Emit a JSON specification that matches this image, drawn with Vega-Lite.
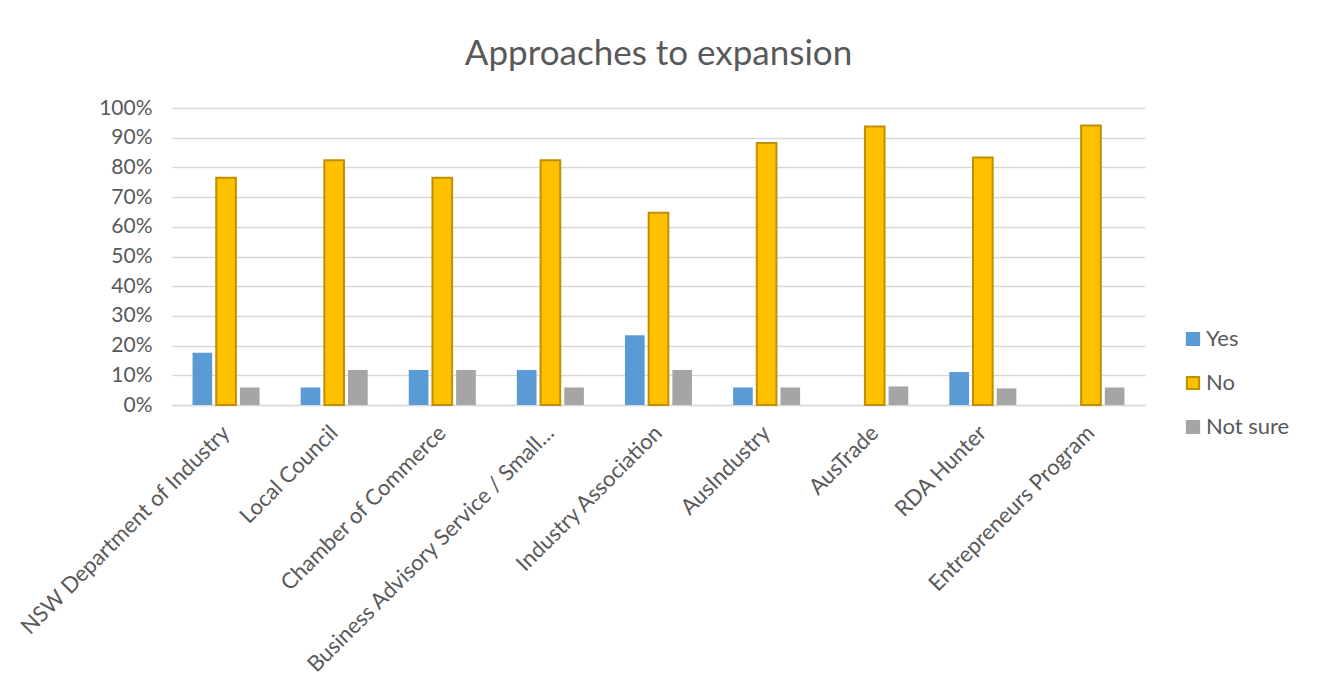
{
  "$schema": "https://vega.github.io/schema/vega-lite/v6.json",
  "width": 973,
  "height": 297,
  "autosize": "none",
  "padding": {"left": 172, "top": 108, "right": 174, "bottom": 274},
  "background": "white",
  "title": {
    "text": "Approaches to expansion",
    "font": "Lato",
    "fontSize": 35,
    "fontWeight": "normal",
    "color": "#595959",
    "anchor": "middle",
    "offset": 25
  },
  "data": {
    "values": [
      {"org": "NSW Department of Industry", "response": "Yes", "share": 0.176},
      {"org": "NSW Department of Industry", "response": "No", "share": 0.765},
      {"org": "NSW Department of Industry", "response": "Not sure", "share": 0.059},
      {"org": "Local Council", "response": "Yes", "share": 0.059},
      {"org": "Local Council", "response": "No", "share": 0.824},
      {"org": "Local Council", "response": "Not sure", "share": 0.118},
      {"org": "Chamber of Commerce", "response": "Yes", "share": 0.118},
      {"org": "Chamber of Commerce", "response": "No", "share": 0.765},
      {"org": "Chamber of Commerce", "response": "Not sure", "share": 0.118},
      {"org": "Business Advisory Service / Small…", "response": "Yes", "share": 0.118},
      {"org": "Business Advisory Service / Small…", "response": "No", "share": 0.824},
      {"org": "Business Advisory Service / Small…", "response": "Not sure", "share": 0.059},
      {"org": "Industry Association", "response": "Yes", "share": 0.235},
      {"org": "Industry Association", "response": "No", "share": 0.647},
      {"org": "Industry Association", "response": "Not sure", "share": 0.118},
      {"org": "AusIndustry", "response": "Yes", "share": 0.059},
      {"org": "AusIndustry", "response": "No", "share": 0.882},
      {"org": "AusIndustry", "response": "Not sure", "share": 0.059},
      {"org": "AusTrade", "response": "Yes", "share": 0},
      {"org": "AusTrade", "response": "No", "share": 0.938},
      {"org": "AusTrade", "response": "Not sure", "share": 0.0625},
      {"org": "RDA Hunter", "response": "Yes", "share": 0.111},
      {"org": "RDA Hunter", "response": "No", "share": 0.833},
      {"org": "RDA Hunter", "response": "Not sure", "share": 0.056},
      {"org": "Entrepreneurs Program", "response": "Yes", "share": 0},
      {"org": "Entrepreneurs Program", "response": "No", "share": 0.941},
      {"org": "Entrepreneurs Program", "response": "Not sure", "share": 0.059}
    ]
  },
  "mark": {"type": "bar"},
  "encoding": {
    "x": {
      "field": "org",
      "type": "nominal",
      "sort": null,
      "title": null,
      "scale": {"paddingInner": 0.38, "paddingOuter": 0.19},
      "axis": {
        "labelAngle": -45,
        "labelAlign": "right",
        "labelBaseline": "middle",
        "labelFont": "Lato",
        "labelFontSize": 22,
        "labelColor": "#595959",
        "labelPadding": 24,
        "labelLimit": 400,
        "ticks": false,
        "domainColor": "#D9D9D9",
        "domainWidth": 1.5,
        "grid": false
      }
    },
    "xOffset": {
      "field": "response",
      "type": "nominal",
      "sort": ["Yes", "No", "Not sure"],
      "scale": {"paddingInner": 0.17, "paddingOuter": 0}
    },
    "y": {
      "field": "share",
      "type": "quantitative",
      "title": null,
      "scale": {"domain": [0, 1]},
      "axis": {
        "values": [0, 0.1, 0.2, 0.3, 0.4, 0.5, 0.6, 0.7, 0.8, 0.9, 1],
        "format": ".0%",
        "labelFont": "Lato",
        "labelFontSize": 21,
        "labelColor": "#595959",
        "labelPadding": 20,
        "ticks": false,
        "domain": false,
        "grid": true,
        "gridColor": "#D9D9D9",
        "gridWidth": 1.5
      }
    },
    "fill": {
      "field": "response",
      "type": "nominal",
      "scale": {
        "domain": ["Yes", "No", "Not sure"],
        "range": ["#5B9BD5", "#FFC000", "#A5A5A5"]
      },
      "legend": {
        "title": null,
        "orient": "none",
        "legendX": 1010,
        "legendY": 220,
        "symbolType": "square",
        "symbolSize": 150,
        "symbolStrokeWidth": 2,
        "labelFont": "Lato",
        "labelFontSize": 22,
        "labelColor": "#595959",
        "labelOffset": 2,
        "rowPadding": 22
      }
    },
    "stroke": {
      "field": "response",
      "type": "nominal",
      "scale": {
        "domain": ["Yes", "No", "Not sure"],
        "range": ["#5B9BD5", "#BF9000", "#A5A5A5"]
      },
      "legend": null
    },
    "strokeWidth": {
      "condition": {"test": "datum.response === 'No'", "value": 2},
      "value": 0
    }
  },
  "config": {
    "view": {"stroke": null}
  }
}
